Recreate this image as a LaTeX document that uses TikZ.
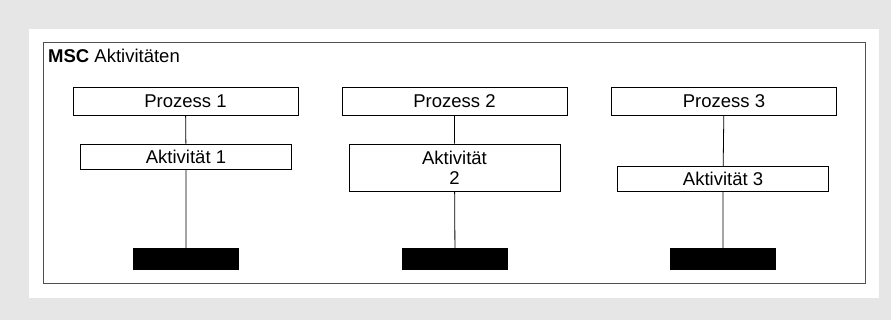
\documentclass[tikz,border=0pt]{standalone}
\usepackage{fontspec}
\setmainfont{Liberation Sans}
\usepackage{tikz}
\definecolor{hinter}{RGB}{230,230,230}
\definecolor{rahmen}{RGB}{80,80,80}

\begin{document}
\begin{tikzpicture}[
    x=1pt, y=-1pt,
    font=\fontsize{18.5}{20}\selectfont,
    proc/.style={draw, line width=0.8pt, inner sep=0pt, minimum width=225pt, minimum height=28pt},
    akt/.style={draw, line width=0.8pt, inner sep=0pt, minimum width=211pt, minimum height=25pt, align=center},
    ende/.style={fill=black, inner sep=0pt, minimum width=106pt, minimum height=22pt},
    leben/.style={line width=0.8pt},
    ]
    \fill[hinter] (0,0) rectangle (891,320);
    \fill[white] (29,29) rectangle (879,298);
    \draw[rahmen, line width=1pt] (43,43) rectangle (865,283);
    \node[anchor=base west, inner sep=0pt] (titel) at (48,63) {\textbf{MSC} Aktivitäten};
    \node[proc] (p1) at (185.5,101) {Prozess 1};
    \node[proc] (p2) at (454.5,101) {Prozess 2};
    \node[proc] (p3) at (724,101) {Prozess 3};
    \node[akt] (a1) at (186,156.5) {Aktivität 1};
    \node[akt, minimum height=47pt] (a2) at (454.5,167.5) {Aktivität\\2};
    \node[akt] (a3) at (723,179) {Aktivität 3};
    \node[ende] (e1) at (186,259) {};
    \node[ende] (e2) at (455,259) {};
    \node[ende] (e3) at (723,259) {};
    \draw[leben] (p1) -- (a1) -- (e1);
    \draw[leben] (p2) -- (a2) -- (e2);
    \draw[leben] (p3) -- (a3) -- (e3);
\end{tikzpicture}
\end{document}
